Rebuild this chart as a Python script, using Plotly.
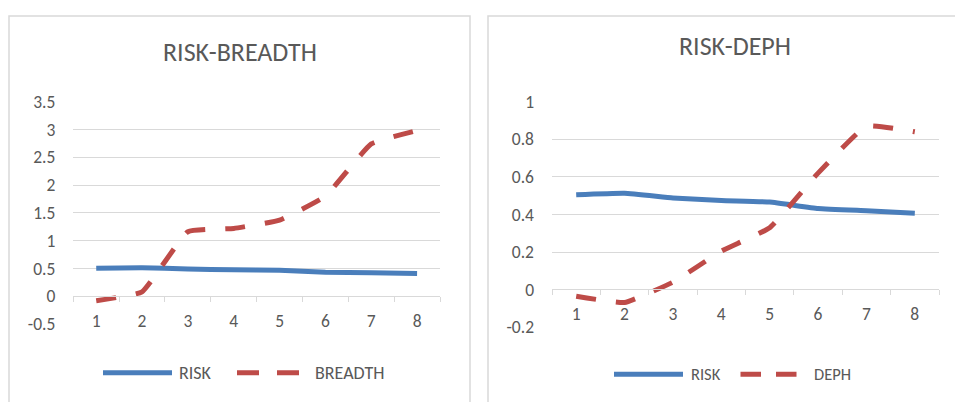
import plotly.graph_objects as go

categories = ["1", "2", "3", "4", "5", "6", "7", "8"]
risk = [0.505, 0.513, 0.488, 0.474, 0.466, 0.432, 0.420, 0.407]
breadth = [-0.08, 0.08, 1.16, 1.22, 1.37, 1.80, 2.74, 2.98]
deph = [-0.035, -0.068, 0.04, 0.205, 0.33, 0.62, 0.87, 0.84]

left_title = "RISK-BREADTH"
right_title = "RISK-DEPH"
risk_name = "RISK"
breadth_name = "BREADTH"
deph_name = "DEPH"

left_ticks = [-0.5, 0, 0.5, 1, 1.5, 2, 2.5, 3, 3.5]
left_ticktext = ["-0.5", "0", "0.5", "1", "1.5", "2", "2.5", "3", "3.5"]
right_ticks = [-0.2, 0, 0.2, 0.4, 0.6, 0.8, 1]
right_ticktext = ["-0.2", "0", "0.2", "0.4", "0.6", "0.8", "1"]

W, H = 955, 402
FONT = "Carlito, Lato, sans-serif"
TXT = "#595959"
GRID = "#d9d9d9"
BLUE = "#4a7ebb"
RED = "#be4b48"
SMOOTH = 0.35
LW = 5


def px(x):
    return x / W


def py(y):
    return (H - y) / H


fig = go.Figure()
fig.add_trace(go.Scatter(x=categories, y=risk, name=risk_name, mode="lines",
                         line=dict(color=BLUE, width=LW, shape="spline", smoothing=SMOOTH),
                         xaxis="x", yaxis="y", showlegend=False))
fig.add_trace(go.Scatter(x=categories, y=breadth, name=breadth_name, mode="lines",
                         line=dict(color=RED, width=LW, dash="20px,20px", shape="spline", smoothing=SMOOTH),
                         xaxis="x", yaxis="y", showlegend=False))
fig.add_trace(go.Scatter(x=categories, y=risk, name=risk_name, mode="lines",
                         line=dict(color=BLUE, width=LW, shape="spline", smoothing=SMOOTH),
                         xaxis="x2", yaxis="y2", showlegend=False))
fig.add_trace(go.Scatter(x=categories, y=deph, name=deph_name, mode="lines",
                         line=dict(color=RED, width=LW, dash="20px,20px", shape="spline", smoothing=SMOOTH),
                         xaxis="x2", yaxis="y2", showlegend=False))

tickfont = dict(family=FONT, size=17.5, color=TXT)

fig.update_layout(
    xaxis=dict(domain=[px(73.3), px(440)], anchor="free", position=py(296.3),
               type="category", range=[-0.5, 7.5], tickson="boundaries", ticks="outside",
               ticklen=5, tickcolor=GRID, showline=True, linecolor=GRID, linewidth=1,
               showgrid=False, tickfont=tickfont, ticklabelstandoff=9,
               automargin=False, fixedrange=True),
    yaxis=dict(domain=[py(324), py(101.7)], range=[-0.5, 3.5], tickvals=left_ticks,
               ticktext=left_ticktext, showgrid=True, gridcolor=GRID, gridwidth=1,
               zeroline=False, showline=False, ticks="", tickfont=tickfont,
               ticklabelstandoff=17, anchor="x", automargin=False, fixedrange=True),
    xaxis2=dict(domain=[px(552), px(939)], anchor="free", position=py(289.3),
                type="category", range=[-0.5, 7.5], tickson="boundaries", ticks="outside",
                ticklen=5, tickcolor=GRID, showline=True, linecolor=GRID, linewidth=1,
                showgrid=False, tickfont=tickfont, ticklabelstandoff=9,
                automargin=False, fixedrange=True),
    yaxis2=dict(domain=[py(327.3), py(101.7)], range=[-0.2, 1], tickvals=right_ticks,
                ticktext=right_ticktext, showgrid=True, gridcolor=GRID, gridwidth=1,
                zeroline=False, showline=False, ticks="", tickfont=tickfont,
                ticklabelstandoff=17, anchor="x2", automargin=False, fixedrange=True),
)

shapes = [
    dict(type="rect", xref="paper", yref="paper", x0=px(9), x1=px(470), y0=py(420), y1=py(16),
         line=dict(color=GRID, width=1.5), layer="below"),
    dict(type="rect", xref="paper", yref="paper", x0=px(488), x1=px(990), y0=py(420), y1=py(16),
         line=dict(color=GRID, width=1.5), layer="below"),
    dict(type="line", xref="paper", yref="paper", x0=px(103), x1=px(172), y0=py(372.7), y1=py(372.7),
         line=dict(color=BLUE, width=5)),
    dict(type="line", xref="paper", yref="paper", x0=px(237), x1=px(299.5), y0=py(372.7), y1=py(372.7),
         line=dict(color=RED, width=5, dash="22px,18px")),
    dict(type="line", xref="paper", yref="paper", x0=px(614), x1=px(683), y0=py(374.3), y1=py(374.3),
         line=dict(color=BLUE, width=5)),
    dict(type="line", xref="paper", yref="paper", x0=px(740.5), x1=px(797), y0=py(374.3), y1=py(374.3),
         line=dict(color=RED, width=5, dash="20.5px,15px")),
]

legfont = dict(family=FONT, size=18, color=TXT)
legfont_r = dict(family=FONT, size=16.5, color=TXT)
annotations = [
    dict(text=left_title, x=px(239.5), y=py(52.5), xref="paper", yref="paper", showarrow=False,
         xanchor="center", yanchor="middle", font=dict(family=FONT, size=26, color=TXT)),
    dict(text=right_title, x=px(735), y=py(46.5), xref="paper", yref="paper", showarrow=False,
         xanchor="center", yanchor="middle", font=dict(family=FONT, size=26, color=TXT)),
    dict(text=risk_name, x=px(177), y=py(372.7), xref="paper", yref="paper", showarrow=False,
         xanchor="left", yanchor="middle", font=legfont),
    dict(text=breadth_name, x=px(313), y=py(372.7), xref="paper", yref="paper", showarrow=False,
         xanchor="left", yanchor="middle", font=legfont),
    dict(text=risk_name, x=px(689), y=py(374.3), xref="paper", yref="paper", showarrow=False,
         xanchor="left", yanchor="middle", font=legfont_r),
    dict(text=deph_name, x=px(812), y=py(374.3), xref="paper", yref="paper", showarrow=False,
         xanchor="left", yanchor="middle", font=legfont_r),
]

fig.update_layout(
    width=W, height=H, margin=dict(l=0, r=0, t=0, b=0, pad=0), autosize=False,
    paper_bgcolor="white", plot_bgcolor="white",
    shapes=shapes, annotations=annotations, showlegend=False,
    font=dict(family=FONT, color=TXT),
)

fig.write_html("out.html", config={"responsive": False, "displayModeBar": False},
               post_script="document.body.style.margin='0';document.body.style.overflow='hidden';")
